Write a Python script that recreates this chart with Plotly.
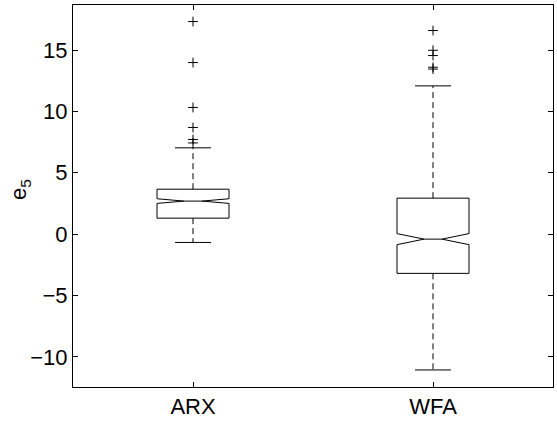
import plotly.graph_objects as go

categories = ["ARX", "WFA"]
positions = [1, 2]
q1 = [1.30, -3.20]
median = [2.69, -0.41]
q3 = [3.66, 2.93]
lower_whisker = [-0.68, -11.07]
upper_whisker = [7.03, 12.08]
notch_span = [0.19, 0.45]
outliers_arx = [17.32, 13.98, 10.32, 8.69, 7.71, 7.43]
outliers_wfa = [16.59, 14.98, 14.55, 13.60, 13.45]
y_ticks = [-10, -5, 0, 5, 10, 15]

BOX_W = 0.30
CAP_HALF = 0.075
FONT = "Liberation Sans, Arial, sans-serif"

fig = go.Figure()

# dashed whiskers
for i, p in enumerate(positions):
    fig.add_trace(go.Scatter(
        x=[p, p], y=[q3[i], upper_whisker[i]], mode="lines",
        line=dict(color="black", width=1, dash="6px,4px"), showlegend=False, hoverinfo="skip"))
    fig.add_trace(go.Scatter(
        x=[p, p], y=[q1[i], lower_whisker[i]], mode="lines",
        line=dict(color="black", width=1, dash="6px,4px"), showlegend=False, hoverinfo="skip"))
    # caps
    for yv in (upper_whisker[i], lower_whisker[i]):
        fig.add_trace(go.Scatter(
            x=[p - CAP_HALF, p + CAP_HALF], y=[yv, yv], mode="lines",
            line=dict(color="black", width=1), showlegend=False, hoverinfo="skip"))

# notched boxes
fig.add_trace(go.Box(
    x=positions, q1=q1, median=median, q3=q3,
    lowerfence=q1, upperfence=q3, notchspan=notch_span,
    notched=True, notchwidth=0.375, whiskerwidth=0,
    width=BOX_W, boxpoints=False,
    line=dict(color="black", width=1), fillcolor="rgba(255,255,255,0)",
    showlegend=False, hoverinfo="skip"))

# outliers
fig.add_trace(go.Scatter(
    x=[positions[0]] * len(outliers_arx) + [positions[1]] * len(outliers_wfa),
    y=outliers_arx + outliers_wfa, mode="markers",
    marker=dict(symbol="cross-thin", size=7, line=dict(color="black", width=1), color="black"),
    showlegend=False, hoverinfo="skip"))

axis_common = dict(showline=True, linecolor="black", linewidth=1, mirror="ticks",
                   ticks="inside", ticklen=5, tickcolor="black", showgrid=False,
                   zeroline=False, automargin=False,
                   tickfont=dict(family=FONT, size=22, color="black"))

fig.update_xaxes(range=[0.5, 2.5], tickvals=positions, ticktext=categories, **axis_common)
fig.update_yaxes(range=[-12.46, 18.67], tickvals=y_ticks,
                 ticktext=[("\u2212" + str(-v)) if v < 0 else str(v) for v in y_ticks],
                 **axis_common)

fig.add_annotation(text="e<sub>5</sub>", xref="paper", yref="paper", x=0, y=0.5,
                   xshift=-53, yshift=6, xanchor="center", yanchor="middle", textangle=-90,
                   showarrow=False, font=dict(family=FONT, size=22, color="black"))

fig.update_layout(width=557, height=421, margin=dict(l=73, r=4, t=5, b=34),
                  paper_bgcolor="white", plot_bgcolor="white")

fig.write_html("out.html", config={"displayModeBar": False},
               post_script="document.body.style.margin='0';document.body.style.padding='0';")
